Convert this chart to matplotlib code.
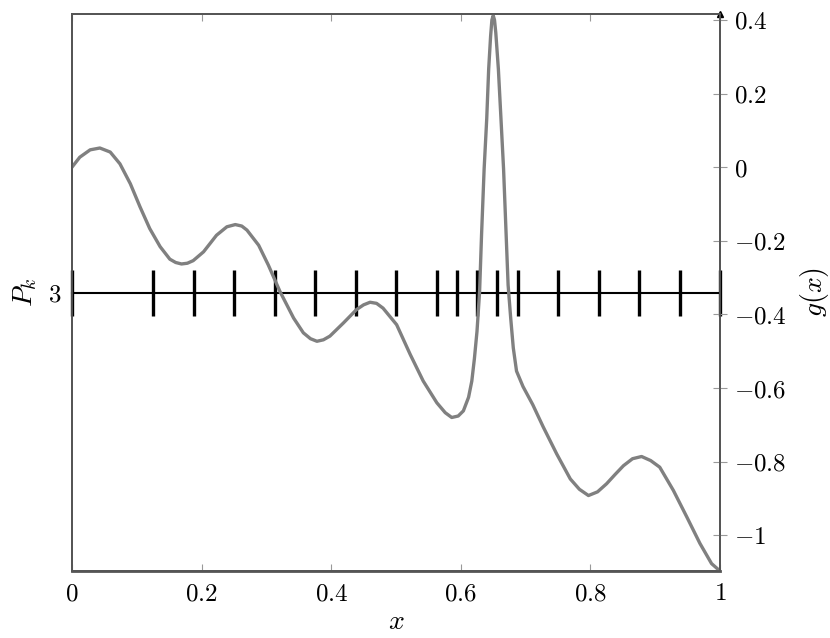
import numpy as np
import matplotlib.pyplot as plt

plt.rcParams['mathtext.fontset'] = 'cm'
plt.rcParams['font.family'] = 'serif'
plt.rcParams['font.serif'] = ['DejaVu Serif']

# g(x) curve
x_vals = [0.0, 0.012, 0.028, 0.043, 0.059, 0.074, 0.090, 0.105, 0.120, 0.136,
          0.151, 0.160, 0.169, 0.178, 0.187, 0.203, 0.223, 0.239, 0.252, 0.262,
          0.270, 0.288, 0.303, 0.321, 0.342, 0.357, 0.368, 0.378, 0.388, 0.398,
          0.419, 0.439, 0.450, 0.460, 0.470, 0.480, 0.501, 0.522, 0.542, 0.563,
          0.576, 0.586, 0.596, 0.604, 0.612, 0.617, 0.621, 0.625, 0.629, 0.632,
          0.636, 0.640, 0.643, 0.646, 0.648, 0.650, 0.652, 0.654, 0.658, 0.662,
          0.666, 0.670, 0.673, 0.677, 0.681, 0.686, 0.696, 0.711, 0.727, 0.748,
          0.769, 0.783, 0.797, 0.811, 0.825, 0.838, 0.851, 0.865, 0.879, 0.893,
          0.907, 0.928, 0.949, 0.969, 0.987, 1.0]
g_vals = [0.0, 0.027, 0.047, 0.052, 0.041, 0.009, -0.045, -0.108, -0.167, -0.216,
          -0.250, -0.259, -0.263, -0.261, -0.254, -0.230, -0.185, -0.162, -0.156, -0.160,
          -0.171, -0.212, -0.266, -0.338, -0.410, -0.450, -0.466, -0.473, -0.469, -0.459,
          -0.423, -0.387, -0.374, -0.367, -0.370, -0.383, -0.428, -0.509, -0.581, -0.640,
          -0.667, -0.680, -0.676, -0.662, -0.625, -0.581, -0.520, -0.446, -0.338, -0.185,
          -0.005, 0.131, 0.266, 0.356, 0.400, 0.412, 0.400, 0.365, 0.266, 0.131,
          -0.005, -0.185, -0.320, -0.410, -0.491, -0.554, -0.596, -0.645, -0.705, -0.779,
          -0.847, -0.875, -0.892, -0.882, -0.860, -0.835, -0.811, -0.792, -0.786, -0.797,
          -0.815, -0.878, -0.951, -1.022, -1.077, -1.097]

# partition points P_k at level 3
pk_x = [0, 0.125, 0.1875, 0.25, 0.3125, 0.375, 0.4375, 0.5, 0.5625, 0.59375,
        0.625, 0.65625, 0.6875, 0.75, 0.8125, 0.875, 0.9375, 1]
pk_level = 3

x_ticks = [0, 0.2, 0.4, 0.6, 0.8, 1]
g_ticks = [-1, -0.8, -0.6, -0.4, -0.2, 0, 0.2, 0.4]

fs = 18
spine_col = '#555555'
tick_col = '#999999'

fig = plt.figure(figsize=(8.3, 6.38), dpi=100)
ax = fig.add_axes([72 / 830, 67 / 638, 648 / 830, 557 / 638])
ax2 = ax.twinx()

# left axis: P_k
ax.plot(pk_x, [pk_level] * len(pk_x), color='black', lw=1.5, marker='|',
        ms=33, mew=2.4, clip_on=False, zorder=3)
ax.set_xlim(0, 1)
ax.set_ylim(2, 4)
ax.set_yticks([pk_level])
ax.set_yticklabels([f'${pk_level}$'], fontsize=fs)
ax.tick_params(axis='y', length=0, pad=8)
ax.set_xticks(x_ticks)
ax.set_xticklabels([f'${v:g}$' for v in x_ticks], fontsize=fs)
ax.tick_params(axis='x', direction='in', length=5, color=tick_col, top=True,
               pad=8)
ax.set_xlabel('$x$', fontsize=fs + 2, labelpad=2)
ax.set_ylabel('$P_k$', fontsize=fs + 2, labelpad=6)

# right axis: g(x)
ax2.plot(x_vals, g_vals, color='#808080', lw=2.4, zorder=2)
ax2.set_ylim(-1.097, 0.416)
ax2.set_yticks(g_ticks)
ax2.set_yticklabels([f'${v:g}$' for v in g_ticks], fontsize=fs)
ax2.tick_params(axis='y', direction='inout', length=10, color=tick_col, pad=5)
ax2.plot([1], [1], marker='^', ms=5, color='black', transform=ax2.transAxes,
         clip_on=False)
fig.text(814 / 830, 1 - 292 / 638, '$g(x)$', rotation=90, ha='center',
         va='center', fontsize=fs + 2)

for a in (ax, ax2):
    for s in a.spines.values():
        s.set_color(spine_col)
        s.set_linewidth(1.3)
ax.spines['bottom'].set_linewidth(2)

fig.savefig('out.png', dpi=100)
